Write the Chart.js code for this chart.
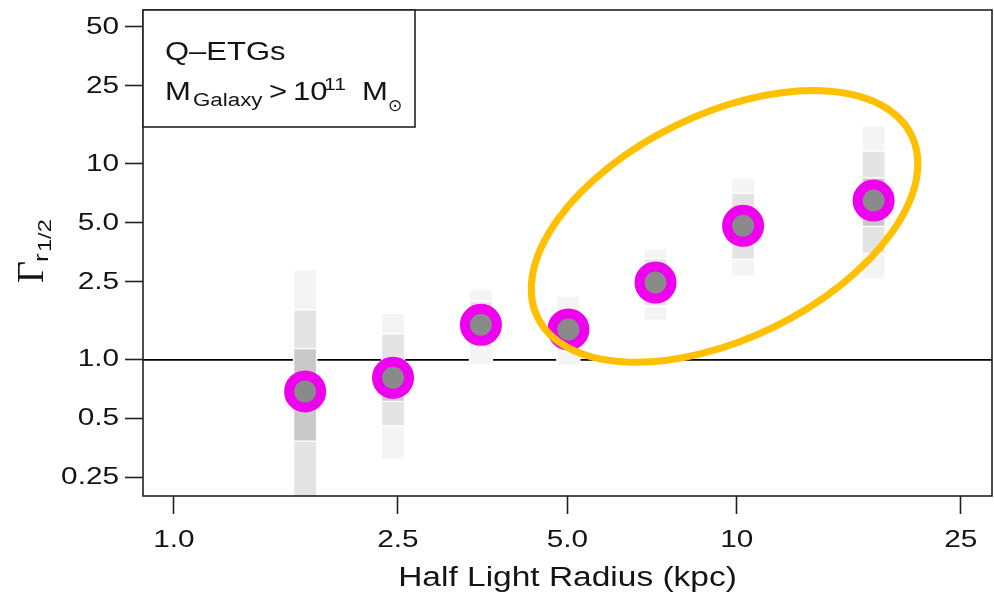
<!DOCTYPE html>
<html>
<head>
<meta charset="utf-8">
<script src="https://cdn.jsdelivr.net/npm/chart.js@4"></script>
<style>
  html, body { margin: 0; padding: 0; background: #fff; }
  canvas { display: block; }
</style>
</head>
<body>
<canvas id="chart" width="994" height="593"></canvas>
<script>
// Half light radius bins (kpc)
const radius = [1.71, 2.45, 3.51, 5.02, 7.17, 10.26, 17.5];
// Median Gamma at r_1/2 in each bin
const gamma = [0.69, 0.81, 1.51, 1.43, 2.48, 4.83, 6.50];
// Inner interval
const innerLo = [0.383, 0.611, 1.30, 1.25, 2.15, 4.00, 4.77];
const innerHi = [1.147, 0.970, 1.70, 1.60, 2.80, 5.80, 8.53];
// Middle interval
const midLo = [0.17, 0.457, 1.15, 1.10, 1.87, 3.24, 3.47];
const midHi = [1.81, 1.365, 2.00, 1.80, 3.30, 7.14, 11.7];
// Outer interval
const outerLo = [0.12, 0.309, 0.94, 0.93, 1.58, 2.66, 2.56];
const outerHi = [2.90, 1.74, 2.30, 2.12, 3.72, 8.55, 15.7];

// Axis ticks
const xTicks = [1, 2.5, 5, 10, 25];
const xTickLabels = ['1.0', '2.5', '5.0', '10', '25'];
const yTicks = [0.25, 0.5, 1, 2.5, 5, 10, 25, 50];
const yTickLabels = ['0.25', '0.5', '1.0', '2.5', '5.0', '10', '25', '50'];

// Highlight ellipse around the large-radius bins (centre in data units)
const ringCentre = { x: 9.51, y: 4.80 };

const TEXT_STRETCH = 1.24;
const INK = '#141414';
const SANS = '"Liberation Sans", Arial, Helvetica, sans-serif';

function bandData(lo, hi) {
  return radius.map((r, i) => ({ x: r, y: [lo[i], hi[i]] }));
}

// Wider, Helvetica-like lettering: stretch every text run horizontally about its anchor
const stretchText = {
  id: 'stretchText',
  beforeInit(chart) {
    const ctx = chart.ctx;
    const base = CanvasRenderingContext2D.prototype.fillText;
    ctx.textStretch = TEXT_STRETCH;
    ctx.fillText = function (text, x, y) {
      this.save();
      this.translate(x, y);
      this.scale(this.textStretch, 1);
      base.call(this, text, 0, 0);
      this.restore();
    };
  }
};

const unityLine = {
  id: 'unityLine',
  beforeDatasetsDraw(chart) {
    const { ctx, chartArea: a, scales } = chart;
    const y = scales.y.getPixelForValue(1);
    ctx.save();
    ctx.strokeStyle = '#000';
    ctx.lineWidth = 1.6;
    ctx.beginPath();
    ctx.moveTo(a.left, y);
    ctx.lineTo(a.right, y);
    ctx.stroke();
    ctx.restore();
  }
};

const ring = {
  id: 'ring',
  afterDatasetsDraw(chart) {
    const { ctx, scales } = chart;
    const cx = scales.x.getPixelForValue(ringCentre.x);
    const cy = scales.y.getPixelForValue(ringCentre.y);
    ctx.save();
    ctx.strokeStyle = '#ffc000';
    ctx.lineWidth = 7;
    ctx.beginPath();
    ctx.ellipse(cx, cy, 208, 112, -26 * Math.PI / 180, 0, Math.PI * 2);
    ctx.stroke();
    ctx.restore();
  }
};

const frameAndLabels = {
  id: 'frameAndLabels',
  afterDraw(chart) {
    const { ctx, chartArea: a } = chart;
    ctx.save();
    // plot frame
    ctx.strokeStyle = '#222';
    ctx.lineWidth = 1.6;
    ctx.strokeRect(a.left, a.top, a.right - a.left, a.bottom - a.top);

    // legend box
    const bx = a.left, by = a.top, bw = 272, bh = 117;
    ctx.fillStyle = '#fff';
    ctx.fillRect(bx, by, bw, bh);
    ctx.strokeRect(bx, by, bw, bh);

    ctx.fillStyle = INK;
    ctx.textAlign = 'left';
    ctx.textBaseline = 'alphabetic';
    ctx.font = '25px ' + SANS;
    ctx.fillText('Q\u2013ETGs', bx + 22, by + 50);
    const base2 = by + 90;
    ctx.fillText('M', bx + 22, base2);
    ctx.font = '18px ' + SANS;
    ctx.fillText('Galaxy', bx + 50, base2 + 6);
    ctx.font = '25px ' + SANS;
    ctx.fillText('>', bx + 126, base2);
    ctx.fillText('10', bx + 150, base2);
    ctx.font = '17px ' + SANS;
    ctx.fillText('11', bx + 181, base2 - 10);
    ctx.font = '25px ' + SANS;
    ctx.fillText('M', bx + 219, base2);
    ctx.font = '17px "DejaVu Sans", ' + SANS;
    ctx.textStretch = 1;
    ctx.fillText('\u2299', bx + 245, base2 + 11);

    // y axis title: Gamma with subscript r_1/2, reading upwards
    const tx = a.left - 100, ty = (a.top + a.bottom) / 2 + 30;
    ctx.translate(tx, ty);
    ctx.rotate(-Math.PI / 2);
    ctx.textStretch = 1;
    ctx.font = '38px "Liberation Serif", "Times New Roman", serif';
    ctx.fillText('\u0393', 0, 0);
    ctx.textStretch = TEXT_STRETCH;
    ctx.font = '21px ' + SANS;
    ctx.fillText('r', 21, 5);
    ctx.font = '19px ' + SANS;
    ctx.fillText('1/2', 31, 8);
    ctx.restore();
    ctx.textStretch = TEXT_STRETCH;
  }
};

function tickGrid() {
  return {
    offset: false,
    drawOnChartArea: false,
    drawTicks: true,
    tickLength: 18,
    tickColor: '#222',
    tickWidth: 1.6,
    color: '#222'
  };
}

// Keep the plot box fixed: no extra room reserved for overhanging labels
function fixBox(size, key) {
  return function (scale) {
    scale[key] = size;
    scale.paddingLeft = 0;
    scale.paddingRight = 0;
    scale.paddingTop = 0;
    scale.paddingBottom = 0;
  };
}

new Chart(document.getElementById('chart'), {
  type: 'bar',
  data: {
    datasets: [
      {
        type: 'scatter',
        data: radius.map((r, i) => ({ x: r, y: gamma[i] })),
        pointRadius: 16,
        pointHoverRadius: 16,
        borderWidth: 10,
        pointBorderWidth: 10,
        backgroundColor: '#8a8a8a',
        borderColor: '#ee00ee',
        order: 0
      },
      {
        data: bandData(innerLo, innerHi),
        backgroundColor: '#c9c9c9',
        borderColor: '#fff',
        borderWidth: 1.5,
        borderSkipped: false,
        barThickness: 24,
        grouped: false,
        order: 1
      },
      {
        data: bandData(midLo, midHi),
        backgroundColor: '#e4e4e4',
        borderColor: '#fff',
        borderWidth: 1.5,
        borderSkipped: false,
        barThickness: 24,
        grouped: false,
        order: 2
      },
      {
        data: bandData(outerLo, outerHi),
        backgroundColor: '#f4f4f4',
        borderColor: '#fff',
        borderWidth: 1.5,
        borderSkipped: false,
        barThickness: 24,
        grouped: false,
        order: 3
      }
    ]
  },
  options: {
    responsive: false,
    animation: false,
    devicePixelRatio: 1,
    layout: { autoPadding: false, padding: { top: 10, right: 2, left: 0, bottom: 0 } },
    plugins: { legend: { display: false }, tooltip: { enabled: false } },
    scales: {
      x: {
        type: 'logarithmic',
        offset: false,
        min: 0.881,
        max: 28.4,
        grid: tickGrid(),
        border: { display: false },
        afterBuildTicks(scale) { scale.ticks = xTicks.map(v => ({ value: v })); },
        afterFit: fixBox(97, 'height'),
        ticks: {
          autoSkip: false,
          maxRotation: 0,
          padding: 12,
          color: INK,
          font: { family: SANS, size: 24 },
          callback: (v) => xTickLabels[xTicks.indexOf(v)] ?? ''
        },
        title: {
          display: true,
          text: 'Half Light Radius (kpc)',
          color: INK,
          font: { family: SANS, size: 27 },
          padding: { top: 0, bottom: -2 }
        }
      },
      y: {
        type: 'logarithmic',
        offset: false,
        min: 0.202,
        max: 61,
        grid: tickGrid(),
        border: { display: false },
        afterBuildTicks(scale) { scale.ticks = yTicks.map(v => ({ value: v })); },
        afterFit: fixBox(143, 'width'),
        ticks: {
          autoSkip: false,
          padding: 6,
          color: INK,
          font: { family: SANS, size: 24 },
          callback: (v) => yTickLabels[yTicks.indexOf(v)] ?? ''
        }
      }
    }
  },
  plugins: [stretchText, unityLine, ring, frameAndLabels]
});
</script>
</body>
</html>
